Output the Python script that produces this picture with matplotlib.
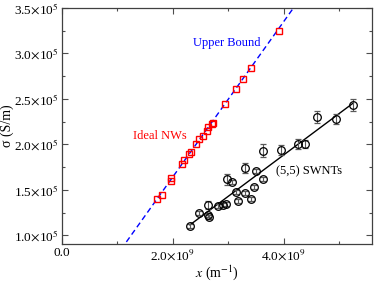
import numpy as np
import matplotlib
matplotlib.use("Agg")
import matplotlib.pyplot as plt
from matplotlib.ticker import MultipleLocator, FixedLocator

plt.rcParams['font.family'] = ['Liberation Serif', 'DejaVu Serif']
plt.rcParams['mathtext.fontset'] = 'stix'

# Ideal NWs (x in 1e9 m^-1, sigma in 1e5 S/m)
nw_x = [1.71, 1.80, 1.96, 1.97, 2.16, 2.20, 2.29, 2.32, 2.41, 2.47, 2.54, 2.61, 2.63,
        2.71, 2.73, 2.95, 3.14, 3.26, 3.42, 3.91]
nw_y = [1.40, 1.445, 1.60, 1.63, 1.785, 1.83, 1.895, 1.92, 2.005, 2.06, 2.09, 2.15, 2.19,
        2.22, 2.24, 2.445, 2.61, 2.72, 2.84, 3.25]

# (5,5) SWNTs
sw_x = [2.31, 2.47, 2.63, 2.63, 2.65, 2.81, 2.90, 2.96, 2.97, 3.06, 3.14, 3.17, 3.30,
        3.30, 3.42, 3.46, 3.51, 3.62, 3.62, 3.95, 4.27, 4.38, 4.60, 4.94, 5.26]
sw_y = [1.105, 1.245, 1.335, 1.225, 1.20, 1.325, 1.335, 1.345, 1.62, 1.59, 1.48, 1.38, 1.74,
        1.465, 1.40, 1.535, 1.71, 1.93, 1.62, 1.94, 2.005, 2.005, 2.30, 2.28, 2.435]
sw_err = [0.02, 0.02, 0.04, 0.02, 0.02, 0.02, 0.02, 0.02, 0.06, 0.02, 0.02, 0.02, 0.055,
          0.02, 0.02, 0.02, 0.02, 0.07, 0.02, 0.055, 0.05, 0.04, 0.065, 0.055, 0.065]

# Upper bound line and SWNT linear fit (sigma[1e5] = a * x[1e9] + b)
ub_slope, ub_icpt = 0.852, -0.06
fit_slope, fit_icpt = 0.454, 0.068

x_ticks = [0.0, 2.0e9, 4.0e9]
x_ticklabels = ['0.0', r'2.0$\times$10$^{9}$', r'4.0$\times$10$^{9}$']
y_ticks = [1.0e5, 1.5e5, 2.0e5, 2.5e5, 3.0e5, 3.5e5]
y_ticklabels = [r'1.0$\times$10$^{5}$', r'1.5$\times$10$^{5}$', r'2.0$\times$10$^{5}$',
                r'2.5$\times$10$^{5}$', r'3.0$\times$10$^{5}$', r'3.5$\times$10$^{5}$']

fig = plt.figure(figsize=(3.74, 2.85), dpi=100)
ax = fig.add_axes([0.166, 0.144, 0.829, 0.828])

xmin, xmax = 0.0, 5.6e9
ymin, ymax = 0.907e5, 3.5e5

# upper bound line
xl = np.array([xmin, xmax])
ax.plot(xl, (ub_slope * xl / 1e9 + ub_icpt) * 1e5, color='#0000ff', lw=1.0,
        dashes=(4, 2.5), zorder=2)

# Ideal NWs
ax.plot(np.array(nw_x) * 1e9, np.array(nw_y) * 1e5, linestyle='none', marker='s',
        markersize=5, markerfacecolor='none', markeredgecolor='#ff0000',
        markeredgewidth=1.0, zorder=3)

# SWNTs
sx = np.array(sw_x) * 1e9
ax.errorbar(sx, np.array(sw_y) * 1e5, yerr=np.array(sw_err) * 1e5, fmt='o',
            markersize=5.5, markerfacecolor='none', markeredgecolor='black',
            markeredgewidth=0.9, ecolor='0.35', elinewidth=0.8, capsize=2.5,
            capthick=0.8, zorder=4)
fx = np.array([min(sw_x), max(sw_x)])
ax.plot(fx * 1e9, (fit_slope * fx + fit_icpt) * 1e5, color='black', lw=1.0, zorder=3)

ax.set_xlim(xmin, xmax)
ax.set_ylim(ymin, ymax)
ax.xaxis.set_major_locator(FixedLocator(x_ticks))
ax.set_xticklabels(x_ticklabels)
ax.xaxis.set_minor_locator(MultipleLocator(1.0e9))
ax.yaxis.set_major_locator(FixedLocator(y_ticks))
ax.set_yticklabels(y_ticklabels)
ax.yaxis.set_minor_locator(MultipleLocator(0.25e5))

ax.tick_params(which='both', direction='in', top=True, right=True, labelsize=9.5,
               color='0.3', width=0.8)
ax.tick_params(which='major', length=4.5, pad=2.5)
ax.tick_params(which='minor', length=2.2)
for s in ax.spines.values():
    s.set_color('0.25')
    s.set_linewidth(0.9)

ax.set_xlabel(r'$x$ (m$^{-1}$)', fontsize=10, labelpad=1)
ax.set_ylabel(r'σ (S/m)', fontsize=10)
ax.yaxis.set_label_coords(-0.155, 0.5)

ax.text(2.36e9, 3.115e5, 'Upper Bound', color='#0000ff', fontsize=9, ha='left', va='center')
ax.text(2.25e9, 2.09e5, 'Ideal NWs', color='#ff0000', fontsize=9, ha='right', va='center')
ax.text(3.87e9, 1.71e5, '(5,5) SWNTs', color='black', fontsize=9, ha='left', va='center')

fig.savefig('out.png', dpi=100)
